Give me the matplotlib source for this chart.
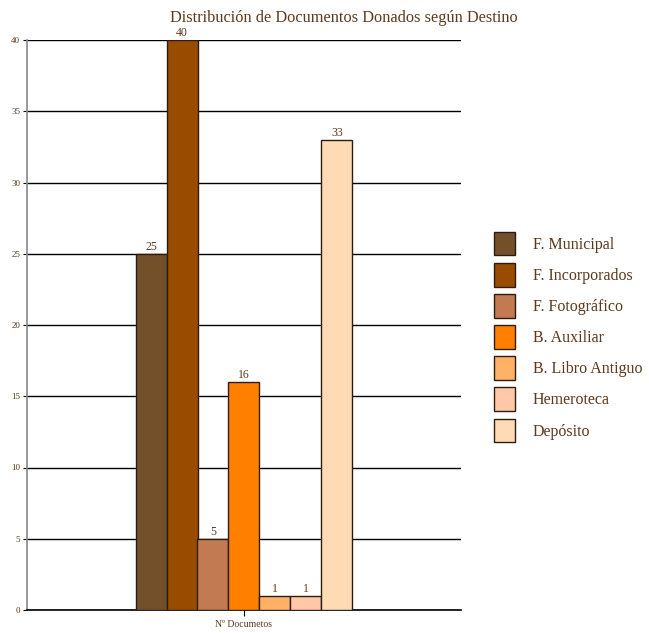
import numpy as np
import matplotlib
matplotlib.use("Agg")
import matplotlib.pyplot as plt
from matplotlib.patches import Patch

destinos = ["F. Municipal", "F. Incorporados", "F. Fotográfico", "B. Auxiliar",
            "B. Libro Antiguo", "Hemeroteca", "Depósito"]
documentos = [25, 40, 5, 16, 1, 1, 33]
colores = ["#734F2A", "#994C00", "#C17A52", "#FF8000", "#FFB266", "#FFC8A8", "#FFDBB5"]
yticks = [0, 5, 10, 15, 20, 25, 30, 35, 40]

texto = "#5C3A1A"
plt.rcParams["font.family"] = ["Liberation Serif", "DejaVu Serif"]

fig = plt.figure(figsize=(6.49, 6.33), dpi=100)
ax = fig.add_axes([27 / 649, 1 - 610 / 633, 434 / 649, 570 / 633])

n = len(documentos)
ancho = 0.5 / n
pos = (np.arange(n) - (n - 1) / 2) * ancho
barras = ax.bar(pos, documentos, width=ancho, color=colores,
                edgecolor="#2b1d10", linewidth=1.0, zorder=3)
for b, v in zip(barras, documentos):
    ax.text(b.get_x() + b.get_width() / 2, v + 0.05, str(v), ha="center",
            va="bottom", fontsize=8.5, color=texto, zorder=4)

ax.set_xlim(-0.5, 0.5)
ax.set_ylim(0, 40)
ax.set_yticks(yticks)
ax.set_yticklabels([str(t) for t in yticks], fontsize=6.5, color=texto)
ax.set_xticks([0])
ax.set_xticklabels(["Nº Documetos"], fontsize=7, color=texto)
ax.tick_params(axis="y", length=3, width=0.8, pad=2)
ax.tick_params(axis="x", length=4, width=0.8, pad=3)
ax.yaxis.grid(True, color="black", linewidth=1.0, zorder=0)
for s in ["top", "right"]:
    ax.spines[s].set_visible(False)
ax.spines["left"].set_color("#888888")
ax.spines["left"].set_linewidth(1.2)
ax.spines["bottom"].set_color("black")
ax.spines["bottom"].set_linewidth(1.2)

fig.text(344 / 649, 1 - 18 / 633, "Distribución de Documentos Donados según Destino",
         ha="center", va="center", fontsize=11.8, color=texto)

handles = [Patch(facecolor=c, edgecolor="#2b1d10", linewidth=1.0) for c in colores]
leg = fig.legend(handles, destinos, loc="center left",
                 bbox_to_anchor=(480 / 649, 1 - 337 / 633), frameon=False,
                 fontsize=11.5, handlelength=1.3, handleheight=1.9,
                 labelspacing=0.47, handletextpad=1.1, labelcolor=texto)

fig.savefig("out.png", dpi=100)
